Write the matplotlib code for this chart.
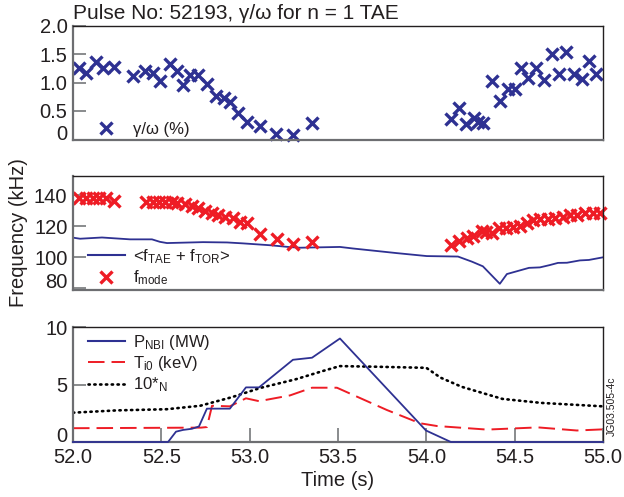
import matplotlib
matplotlib.use("Agg")
import matplotlib.pyplot as plt
from matplotlib.lines import Line2D

plt.rcParams['font.family'] = ['Liberation Sans', 'DejaVu Sans']
plt.rcParams['mathtext.fontset'] = 'custom'
plt.rcParams['mathtext.rm'] = 'Liberation Sans'
plt.rcParams['mathtext.it'] = 'Liberation Sans:italic'
plt.rcParams['mathtext.bf'] = 'Liberation Sans:bold'

# ---- growth rate gamma/omega (%) ----
gw_t = [52.034, 52.074, 52.128, 52.168, 52.234, 52.338, 52.41, 52.453, 52.494,
        52.547, 52.587, 52.623, 52.664, 52.706, 52.758, 52.811, 52.853, 52.889,
        52.932, 52.983, 53.056, 53.15, 53.247, 53.354,
        54.139, 54.183, 54.224, 54.269, 54.29, 54.318, 54.371, 54.418, 54.464,
        54.50, 54.537, 54.577, 54.622, 54.667, 54.709, 54.75, 54.791, 54.835,
        54.879, 54.918, 54.958]
gw_v = [1.26, 1.17, 1.36, 1.25, 1.28, 1.11, 1.20, 1.17, 1.03,
        1.32, 1.20, 0.96, 1.14, 1.13, 0.97, 0.77, 0.73, 0.65,
        0.46, 0.31, 0.24, 0.09, 0.08, 0.29,
        0.36, 0.55, 0.28, 0.37, 0.31, 0.29, 1.03, 0.68, 0.88,
        0.88, 1.26, 1.08, 1.25, 1.04, 1.50, 1.15, 1.53, 1.15,
        1.06, 1.37, 1.15]

# ---- measured mode frequency (kHz) ----
fm_t = [52.034, 52.074, 52.111, 52.149, 52.184, 52.234,
        52.413, 52.451, 52.488, 52.521, 52.559, 52.590, 52.634, 52.672, 52.709,
        52.747, 52.785, 52.822, 52.860, 52.904, 52.945, 52.983, 53.058, 53.153,
        53.243, 53.351,
        54.139, 54.184, 54.228, 54.265, 54.313, 54.337, 54.370, 54.413, 54.449,
        54.492, 54.530, 54.568, 54.605, 54.643, 54.690, 54.728, 54.775, 54.813,
        54.851, 54.898, 54.945, 54.982]
fm_v = [138.0, 138.0, 138.0, 138.0, 138.0, 136.3,
        135.7, 135.7, 135.3, 135.3, 135.3, 134.6, 134.0, 132.9, 131.4,
        129.9, 128.2, 127.1, 126.0, 125.0, 122.8, 121.7, 115.0, 111.4,
        108.2, 109.5,
        108.0, 110.2, 112.2, 113.8, 117.0, 116.0, 115.3, 118.9, 118.5,
        119.6, 120.0, 121.7, 123.6, 124.5, 124.5, 125.4, 126.0, 127.1,
        127.1, 128.2, 128.2, 128.2]

# ---- <f_TAE + f_TOR> (kHz) ----
ft_t = [52.0, 52.04, 52.164, 52.323, 52.447, 52.492, 52.532, 52.736, 52.872,
        52.962, 53.115, 53.228, 53.285, 53.511, 53.585, 53.834, 54.003, 54.179,
        54.258, 54.32, 54.416, 54.456, 54.581, 54.643, 54.699, 54.745, 54.796,
        54.869, 54.92, 55.0]
ft_v = [112.5, 111.8, 112.6, 111.4, 111.4, 109.8, 109.0, 109.6, 109.4,
        108.8, 107.6, 106.4, 106.0, 106.5, 105.5, 102.5, 100.6, 100.3,
        97.0, 94.0, 82.7, 89.0, 93.0, 93.3, 94.8, 96.2, 96.3,
        97.8, 98.1, 99.8]

# ---- NBI power (MW) ----
pnbi_t = [52.0, 52.538, 52.583, 52.623, 52.673, 52.713, 52.758, 52.888, 52.979,
          53.053, 53.245, 53.353, 53.511, 53.998, 54.139, 55.0]
pnbi_v = [0.0, 0.0, 0.9, 1.05, 1.15, 1.35, 2.9, 2.9, 4.75,
          4.75, 7.15, 7.33, 9.0, 1.0, 0.0, 0.0]

# ---- central ion temperature (keV) ----
ti_t = [52.0, 52.724, 52.758, 52.787, 52.888, 52.979, 53.053, 53.228, 53.353,
        53.494, 53.777, 53.964, 54.06, 54.343, 54.632, 54.852, 55.0]
ti_v = [1.2, 1.25, 1.3, 3.15, 3.1, 3.8, 3.55, 4.05, 4.72,
        4.72, 2.78, 1.63, 1.39, 1.08, 1.27, 1.0, 1.1]

# ---- 10 * beta_N ----
bn_t = [52.0, 52.25, 52.53, 52.72, 52.9, 53.06, 53.26, 53.42, 53.51, 53.7,
        54.0, 54.08, 54.2, 54.43, 54.65, 55.0]
bn_v = [2.55, 2.75, 2.85, 3.15, 3.9, 4.7, 5.45, 6.2, 6.6, 6.55,
        6.45, 5.6, 4.8, 3.75, 3.4, 3.1]

x_ticks = [52.0, 52.5, 53.0, 53.5, 54.0, 54.5, 55.0]
x_ticklabels = ['52.0', '52.5', '53.0', '53.5', '54.0', '54.5', '55.0']

BLUE = '#2E3192'
RED = '#EE1C25'
INK = '#231F20'
FS = 14.5
LFS = 12

fig = plt.figure(figsize=(6.24, 4.97), dpi=100)
W, H = 624.0, 497.0
left = 73 / W
width = (603 - 73) / W


def make_axes(top_px, bot_px):
    ax = fig.add_axes([left, 1 - bot_px / H, width, (bot_px - top_px) / H])
    ax.set_xlim(52.0, 55.0)
    for s in ('top', 'right'):
        ax.spines[s].set_color(INK)
        ax.spines[s].set_linewidth(1.0)
    for s in ('left', 'bottom'):
        ax.spines[s].set_color('#6d6e71')
        ax.spines[s].set_linewidth(1.6)
    ax.tick_params(axis='y', direction='in', length=9, width=1.3,
                   color='#808285', labelsize=FS, labelcolor=INK, pad=4,
                   right=False)
    ax.tick_params(axis='x', direction='in', length=10, width=1.3,
                   color='#808285', labelsize=FS, labelcolor=INK, pad=4,
                   top=False)
    return ax


def lift_lowest_label(ax):
    # lowest y tick label sits on the bottom spine
    ax.get_yticklabels()[0].set_verticalalignment('baseline')


def legend(ax, handles, labels, anchor, loc):
    return ax.legend(handles, labels, loc=loc, bbox_to_anchor=anchor,
                     frameon=False, fontsize=LFS, handlelength=2.2,
                     handletextpad=0.5, borderpad=0, borderaxespad=0,
                     labelspacing=0.15, labelcolor=INK)


mk = dict(linestyle='none', marker='x', markersize=9, markeredgewidth=2.4)
ti_dash = (8.5, 3.6)
bn_dash = (0.5, 1.7)

# top panel: gamma / omega
ax1 = make_axes(25.5, 139.5)
ax1.plot(gw_t, gw_v, color=BLUE, clip_on=False, **mk)
ax1.set_ylim(0, 2.0)
ax1.set_yticks([0, 0.5, 1.0, 1.5, 2.0])
ax1.set_yticklabels(['0', '0.5', '1.0', '1.5', '2.0'])
ax1.set_xticks([])
lift_lowest_label(ax1)
h = Line2D([], [], color=BLUE, **mk)
legend(ax1, [h], ['γ/ω (%)'], (0.028, 0.02), 'lower left')

# middle panel: frequencies
ax2 = make_axes(176, 290)
ax2.plot(ft_t, ft_v, color=BLUE, linewidth=1.3)
ax2.plot(fm_t, fm_v, color=RED, clip_on=False, **mk)
ax2.set_ylim(78.7, 152.3)
ax2.set_yticks([80, 100, 120, 140])
ax2.set_xticks([])
lift_lowest_label(ax2)
h1 = Line2D([], [], color=BLUE, linewidth=1.5)
h2 = Line2D([], [], color=RED, **mk)
legend(ax2, [h1, h2],
       [r'<f$_\mathrm{TAE}$ + f$_\mathrm{TOR}$>', r'f$_\mathrm{mode}$'],
       (0.028, 0.025), 'lower left')
ax2.set_ylabel('Frequency (kHz)', fontsize=FS, color=INK)
ax2.yaxis.set_label_coords(-0.084, 0.5)

# bottom panel: heating and plasma parameters
ax3 = make_axes(327, 442)
ax3.plot(pnbi_t, pnbi_v, color=BLUE, linewidth=1.3, clip_on=False, zorder=3)
ax3.plot(ti_t, ti_v, color=RED, linewidth=1.4, dashes=ti_dash)
ax3.plot(bn_t, bn_v, color='black', linewidth=1.9, dashes=bn_dash,
         dash_capstyle='round')
ax3.set_ylim(0, 10)
ax3.set_yticks([0, 5, 10])
ax3.set_xticks(x_ticks)
ax3.set_xticklabels(x_ticklabels)
lift_lowest_label(ax3)
hb = [Line2D([], [], color=BLUE, linewidth=1.5),
      Line2D([], [], color=RED, linewidth=1.4, dashes=ti_dash),
      Line2D([], [], color='black', linewidth=1.9, dashes=bn_dash,
             dash_capstyle='round')]
legend(ax3, hb,
       [r'P$_\mathrm{NBI}$ (MW)', r'T$_\mathrm{i0}$ (keV)', r'10*$_\mathrm{N}$'],
       (0.028, 0.95), 'upper left')
ax3.set_xlabel('Time (s)', fontsize=FS, color=INK, labelpad=3)

fig.text(73 / W, 1 - 19 / H, 'Pulse No: 52193, γ/ω for n = 1 TAE',
         fontsize=15, color=INK, ha='left', va='baseline')
fig.text(612 / W, 1 - 406 / H, 'JG03.505-4c', fontsize=7.5, color=INK,
         rotation=90, ha='center', va='center')

fig.savefig('out.png', dpi=100)
